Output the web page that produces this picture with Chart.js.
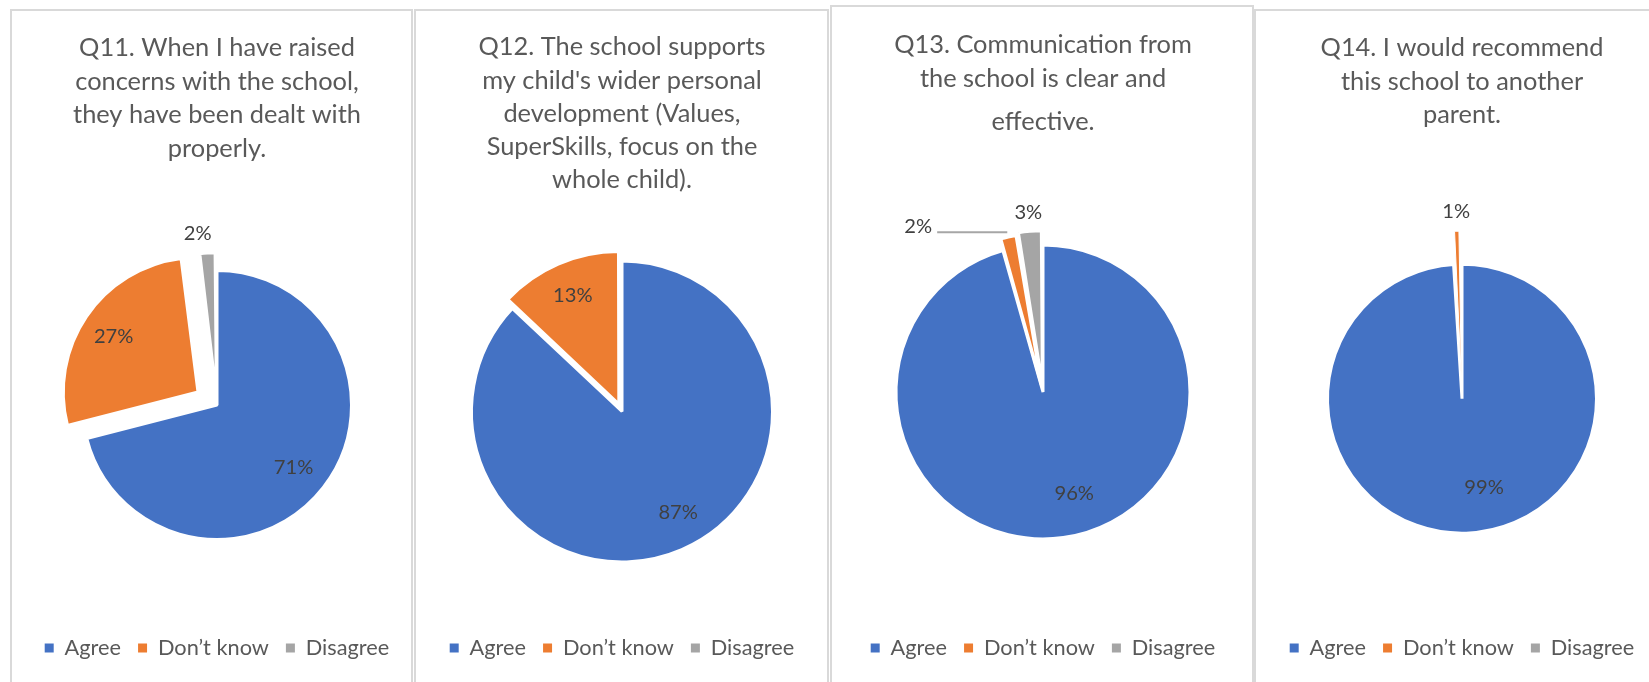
<!DOCTYPE html>
<html><head><meta charset="utf-8">
<script src="https://cdn.jsdelivr.net/npm/chart.js@4.4.1/dist/chart.umd.min.js"></script>
<style>
html,body{margin:0;padding:0;background:#fff;overflow:hidden;width:1649px;height:682px;}
.panel{position:absolute;border:2px solid #d9d9d9;box-sizing:border-box;height:740px;}
canvas{position:absolute;top:0;}
</style></head><body>
<div class="panel" style="left:10px;top:9px;width:403px"></div>
<div class="panel" style="left:414px;top:9px;width:415px"></div>
<div class="panel" style="left:830px;top:5px;width:424px"></div>
<div class="panel" style="left:1254px;top:9px;width:420px"></div>
<canvas id="c11" width="380" height="700"></canvas>
<canvas id="c12" width="380" height="700"></canvas>
<canvas id="c13" width="380" height="700"></canvas>
<canvas id="c14" width="380" height="700"></canvas>
<script>
// ---- data ----
const categories = ['Agree', 'Don\u2019t know', 'Disagree'];
const q11Values = [71, 27, 2];
const q12Values = [87, 13, 0];
const q13Values = [95.6, 1.8, 2.6];
const q14Values = [99, 1, 0];
const q11Title = ['Q11. When I have raised', 'concerns with the school,', 'they have been dealt with', 'properly.'];
const q12Title = ['Q12. The school supports', 'my child\'s wider personal', 'development (Values,', 'SuperSkills, focus on the', 'whole child).'];
const q13Title = ['Q13. Communication from', 'the school is clear and'];
const q13Subtitle = 'effective.';
const q14Title = ['Q14. I would recommend', 'this school to another', 'parent.'];

// ---- styles ----
const colors = ['#4472C4', '#ED7D31', '#A5A5A5'];
const FONT = 'Lato';
const mctx = document.createElement('canvas').getContext('2d');
function fit(sample, target) {
  mctx.font = '400 100px ' + FONT;
  return 100 * target / mctx.measureText(sample).width;
}
const titleSize = fit('Q11. When I have raised', 276);
const legendSize = fit('Don\u2019t know', 111);
const labelSize = fit('71%', 39.5);
const CANVAS_W = 380, CANVAS_H = 700;
const LEGEND_Y = 648, LEGEND_PAD = 17;
const legendTop = LEGEND_Y - LEGEND_PAD - legendSize / 2;
const padBottom = CANVAS_H - 10 - legendSize / 2 - LEGEND_Y;

function makeLabelPlugin(place) {
  return {
    id: 'pieLabels',
    afterDatasetsDraw(chart) {
      const ctx = chart.ctx;
      const meta = chart.getDatasetMeta(0);
      const values = chart.data.datasets[0].data;
      ctx.save();
      ctx.font = '400 ' + labelSize + 'px ' + FONT;
      ctx.fillStyle = '#404040';
      ctx.textAlign = 'center';
      ctx.textBaseline = 'middle';
      meta.data.forEach((arc, i) => {
        const v = values[i];
        if (!v) return;
        const spec = place[i];
        const p = arc.getProps(['x', 'y', 'startAngle', 'endAngle', 'outerRadius', 'circumference'], true);
        const off = (arc.options.offset || 0) / 4;
        const fix = 1 - Math.sin(Math.min(Math.PI, p.circumference));
        const mid = (p.startAngle + p.endAngle) / 2;
        const ox = p.x + Math.cos(mid) * off, oy = p.y + Math.sin(mid) * off;
        const text = Math.round(v) + '%';
        const a = mid + (Number(spec.shift) || 0) * Math.PI / 180;
        let lx, ly;
        if (spec.mode === 'in') {
          lx = ox + Math.cos(a) * spec.k * p.outerRadius;
          ly = oy + Math.sin(a) * spec.k * p.outerRadius;
        } else if (spec.mode === 'out') {
          const rr = p.outerRadius + off * fix + spec.gap;
          lx = ox + Math.cos(a) * rr;
          ly = oy + Math.sin(a) * rr;
        } else {
          const rr = p.outerRadius + off * fix + spec.gap;
          const ax = ox + Math.cos(mid) * rr, ay = oy + Math.sin(mid) * rr;
          lx = ax + spec.dx; ly = ay + spec.dy;
          const w = ctx.measureText(text).width;
          ctx.save();
          ctx.strokeStyle = '#a6a6a6';
          ctx.lineWidth = 2;
          ctx.beginPath();
          ctx.moveTo(lx + w / 2 + 5, ay);
          ctx.lineTo(ax, ay);
          ctx.stroke();
          ctx.restore();
        }
        ctx.fillText(text, lx, ly);
      });
      ctx.restore();
    }
  };
}

function legendItems(chart) {
  const base = (Chart.overrides.doughnut || Chart.overrides.pie).plugins.legend.labels.generateLabels(chart);
  return base.map(it => Object.assign({}, it, {lineWidth: 0}));
}

function makeChart(spec) {
  const el = document.getElementById(spec.id);
  el.style.left = Math.round(spec.cx - CANVAS_W / 2) + 'px';
  const lh = spec.lh;
  const n = spec.title.length;
  const areaTop = 2 * spec.cy - legendTop;
  const tTop = spec.firstY - lh / 2;
  let tBottom, sub = {display: false};
  if (spec.subtitle) {
    tBottom = 0;
    const subTopEdge = tTop + n * lh;
    const sTop = spec.subY - lh / 2 - subTopEdge;
    const sBottom = areaTop - (subTopEdge + sTop + lh);
    sub = {display: true, text: spec.subtitle, color: '#595959',
      font: {family: FONT, size: titleSize, weight: '400', lineHeight: lh + 'px'},
      padding: {top: sTop, bottom: sBottom}};
  } else {
    tBottom = areaTop - (tTop + n * lh);
  }
  return new Chart(el, {
    type: 'pie',
    data: {
      labels: categories,
      datasets: [{
        data: spec.values,
        backgroundColor: colors,
        borderColor: '#ffffff',
        borderWidth: spec.borders || 3,
        offset: spec.offsets,
        hoverOffset: 0,
        radius: spec.radius,
        clip: false
      }]
    },
    options: {
      responsive: false,
      animation: false,
      devicePixelRatio: 1,
      events: [],
      layout: {padding: {top: 0, left: 0, right: 0, bottom: padBottom}},
      plugins: {
        title: {display: true, text: spec.title, color: '#595959',
          font: {family: FONT, size: titleSize, weight: '400', lineHeight: lh + 'px'},
          padding: {top: tTop, bottom: tBottom}},
        subtitle: sub,
        legend: {display: true, position: 'bottom', align: 'center',
          labels: {boxWidth: 9, boxHeight: 9, padding: LEGEND_PAD, color: '#595959',
            font: {family: FONT, size: legendSize, weight: '400'},
            generateLabels: legendItems}},
        tooltip: {enabled: false}
      }
    },
    plugins: [makeLabelPlugin(spec.place)]
  });
}

makeChart({id: 'c11', cx: 217, cy: 405, radius: 134.5, values: q11Values, title: q11Title,
  firstY: 48, lh: 33.5, offsets: [0, 92, 38],
  place: [{mode: 'in', k: 0.735, shift: 1.4}, {mode: 'in', k: 0.749, shift: -1.0}, {mode: 'out', gap: 20, shift: -3}]});
makeChart({id: 'c12', cx: 621.5, cy: 411.5, radius: 150.5, values: q12Values, title: q12Title,
  firstY: 47.2, lh: 33.2, offsets: [0, 32, 0],
  place: [{mode: 'in', k: 0.765, shift: -5.8}, {mode: 'in', k: 0.783, shift: 0.4}, {mode: 'out', gap: 20, shift: 0}]});
makeChart({id: 'c13', cx: 1042.5, cy: 392, radius: 147, values: q13Values, title: q13Title,
  subtitle: q13Subtitle, subY: 121.5,
  firstY: 44.5, lh: 34.7, offsets: [0, 25, 31],
  place: [{mode: 'in', k: 0.722, shift: -9.2}, {mode: 'leader', gap: 5, dx: -89, dy: -5.5, shift: 0}, {mode: 'out', gap: 18.7, shift: 0}]});
makeChart({id: 'c14', cx: 1462, cy: 398.7, radius: 134.5, values: q14Values, title: q14Title,
  firstY: 48, lh: 33.5, offsets: [0, 68, 0], borders: [3, 1, 3],
  place: [{mode: 'in', k: 0.677, shift: -12.2}, {mode: 'out', gap: 19.4, shift: 0}, {mode: 'out', gap: 20, shift: 0}]});
</script>
</body></html>
